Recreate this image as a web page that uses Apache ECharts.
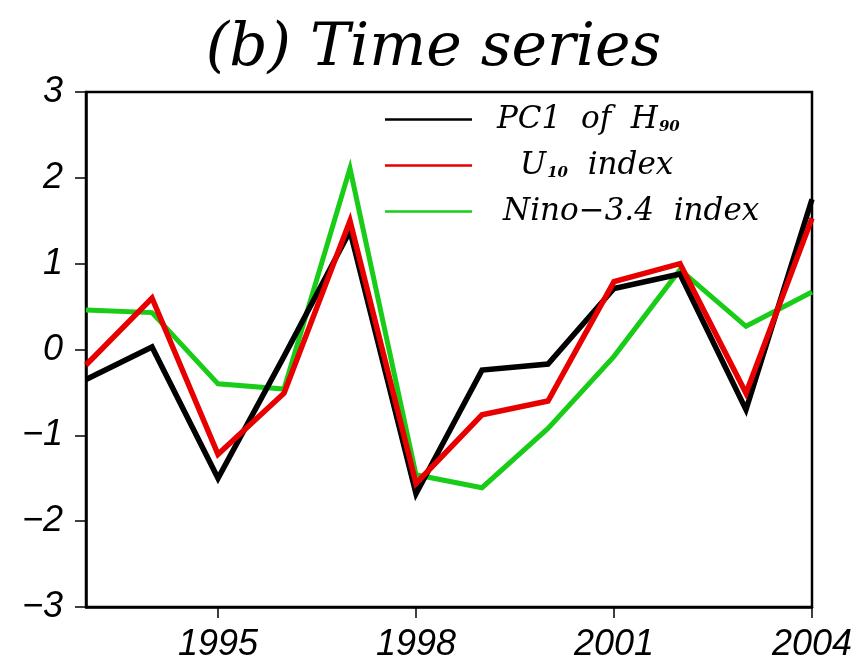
<!DOCTYPE html>
<html>
<head>
<meta charset="utf-8">
<script src="https://cdn.jsdelivr.net/npm/echarts@6/dist/echarts.min.js"></script>
<style>
  html, body { margin: 0; padding: 0; background: #fff; }
  #chart { width: 867px; height: 663px; }
</style>
</head>
<body>
<div id="chart"></div>
<script>
// Years on the horizontal axis
const years = ['1993', '1994', '1995', '1996', '1997', '1998', '1999', '2000', '2001', '2002', '2003', '2004'];
// Years that carry a tick and label
const yearTicks = ['1995', '1998', '2001', '2004'];
// Normalized series
const pc1H90 = [-0.35, 0.03, -1.50, -0.08, 1.38, -1.68, -0.24, -0.17, 0.71, 0.88, -0.70, 1.75];
const u10Index = [-0.18, 0.60, -1.22, -0.51, 1.50, -1.56, -0.76, -0.60, 0.79, 1.00, -0.51, 1.53];
const nino34Index = [0.46, 0.43, -0.40, -0.46, 2.11, -1.46, -1.61, -0.92, -0.08, 0.93, 0.27, 0.67];

const serif = '"DejaVu Serif", "Liberation Serif", serif';
const sans = '"Liberation Sans", Arial, sans-serif';

const legendRich = {
  n: { fontFamily: serif, fontStyle: 'italic', fontSize: 31, color: '#000' },
  sub: { fontFamily: serif, fontStyle: 'italic', fontWeight: 'bold', fontSize: 15, color: '#000', verticalAlign: 'bottom', padding: [13, 0, 0, 1] },
  s1: { width: 20 }, s2: { width: 43 }, s3: { width: 26 }
};
const labels = {
  'PC1 of H90': '{s1|}{n|PC1  of  H}{sub|90}',
  'U10 index': '{s2|}{n|U}{sub|10}{n|  index}',
  'Nino-3.4 index': '{s3|}{n|Nino\u22123.4  index}'
};
function legendAt(name, top) {
  return {
    data: [name], left: 385, top: top, icon: 'rect',
    itemWidth: 87, itemHeight: 2.5, padding: 0,
    selectedMode: false,
    formatter: (n) => labels[n],
    textStyle: { rich: legendRich }
  };
}

const chart = echarts.init(document.getElementById('chart'), null, { renderer: 'canvas' });
chart.setOption({
  animation: false,
  backgroundColor: '#fff',
  title: {
    text: '(b) Time series', left: 'center', top: 14,
    textStyle: { fontFamily: serif, fontStyle: 'italic', fontWeight: 'normal', fontSize: 60, color: '#000' }
  },
  legend: [
    legendAt('PC1 of H90', 104),
    legendAt('U10 index', 150),
    legendAt('Nino-3.4 index', 196)
  ],
  grid: { left: 86, right: 55, top: 92, bottom: 53, show: true, borderColor: '#000', borderWidth: 2.5, backgroundColor: 'transparent' },
  xAxis: {
    type: 'category', data: years, boundaryGap: false,
    axisLine: { onZero: false, lineStyle: { color: '#000', width: 2.5 } },
    axisTick: { length: 11, lineStyle: { color: '#000', width: 1.5 }, interval: (i, v) => yearTicks.includes(v) },
    axisLabel: {
      interval: (i, v) => yearTicks.includes(v), margin: 20,
      fontFamily: sans, fontStyle: 'italic', fontSize: 36, color: '#000'
    },
    splitLine: { show: false }
  },
  yAxis: {
    type: 'value', min: -3, max: 3, interval: 1,
    axisLine: { show: true, lineStyle: { color: '#000', width: 2.5 } },
    axisTick: { show: true, length: 11, lineStyle: { color: '#000', width: 1.5 } },
    axisLabel: {
      margin: 23, fontFamily: sans, fontStyle: 'italic', fontSize: 36, color: '#000',
      formatter: (v) => (v < 0 ? '\u2212' + Math.abs(v) : String(v))
    },
    splitLine: { show: false }
  },
  series: [
    { name: 'Nino-3.4 index', type: 'line', data: nino34Index, symbol: 'none', z: 2,
      itemStyle: { color: '#18cc18' }, lineStyle: { color: '#18cc18', width: 5, join: 'miter' } },
    { name: 'PC1 of H90', type: 'line', data: pc1H90, symbol: 'none', z: 3,
      itemStyle: { color: '#000' }, lineStyle: { color: '#000', width: 5.5, join: 'miter' } },
    { name: 'U10 index', type: 'line', data: u10Index, symbol: 'none', z: 4,
      itemStyle: { color: '#e80000' }, lineStyle: { color: '#e80000', width: 5.5, join: 'miter' } }
  ]
});
</script>
</body>
</html>
